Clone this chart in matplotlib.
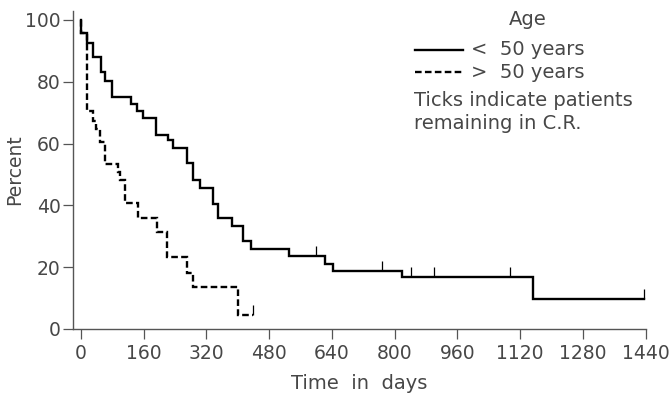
import numpy as np
import matplotlib
matplotlib.use("Agg")
import matplotlib.pyplot as plt
from matplotlib.lines import Line2D

# ---- data ----
lt50_days = [0, 1.5, 17, 32, 51, 62, 80, 127, 144, 158, 192, 223, 236, 270, 287,
             304, 338, 350, 385, 414, 433, 531, 622, 642, 818, 1153]
lt50_pct = [100, 95.8, 92.6, 88.0, 83.2, 80.4, 75.2, 72.8, 70.6, 68.2, 62.8, 61.2,
            58.7, 53.6, 48.1, 45.5, 40.6, 35.8, 33.3, 28.5, 26.0, 23.6, 21.0, 18.9,
            16.9, 9.6]
lt50_end = 1435
lt50_censored = [599, 767, 841, 900, 1095, 1435]

gt50_days = [0, 1.5, 17, 30, 38, 49, 62, 94, 100, 113, 147, 194, 219, 270, 287, 401]
gt50_pct = [100, 95.8, 70.6, 67.2, 64.7, 60.5, 53.4, 50.8, 48.2, 40.9, 35.9, 31.4,
            23.4, 18.1, 13.6, 4.5]
gt50_end = 440
gt50_censored = [440]

x_ticks = [0, 160, 320, 480, 640, 800, 960, 1120, 1280, 1440]
y_ticks = [0, 20, 40, 60, 80, 100]

legend_title = "Age"
label_lt50 = "<  50 years"
label_gt50 = ">  50 years"
note_lines = ["Ticks indicate patients", "remaining in C.R."]

TXT = "#474747"
plt.rcParams['font.family'] = ['DejaVu Sans']

W, H = 670, 394
fig = plt.figure(figsize=(W / 100, H / 100), dpi=100)
ax = fig.add_axes([73.3 / W, 1 - 329 / H, (646 - 73.3) / W, (329 - 10.7) / H])


def fx(px):
    return px / W


def fy(py):
    return 1 - py / H


def step_value(days, pct, t):
    i = np.searchsorted(days, t, side='right') - 1
    return np.asarray(pct)[i]


def draw_curve(days, pct, end, censored, **kw):
    xs = list(days) + [end]
    ys = list(pct) + [pct[-1]]
    ax.step(xs, ys, where='post', color='black', **kw)
    for c in censored:
        v = step_value(days, pct, c)
        ax.plot([c, c], [v, v + 3.2], color='black', lw=0.9,
                solid_capstyle='butt')


DASH = (0, (2.8, 1.4))
draw_curve(lt50_days, lt50_pct, lt50_end, lt50_censored, lw=1.7,
           solid_joinstyle='miter')
draw_curve(gt50_days, gt50_pct, gt50_end, gt50_censored, lw=1.7,
           linestyle=DASH, dash_joinstyle='miter')

ax.set_xlim(-19, 1441)
ax.set_ylim(0, 103)
ax.set_xticks(x_ticks)
ax.set_yticks(y_ticks)
for s in ['top', 'right']:
    ax.spines[s].set_visible(False)
for s in ['left', 'bottom']:
    ax.spines[s].set_color('#555555')
    ax.spines[s].set_linewidth(1.0)
ax.tick_params(axis='both', length=7.5, width=0.9, color='#555555',
               labelsize=13.5, labelcolor=TXT, direction='out')
ax.tick_params(axis='x', pad=3)
ax.tick_params(axis='y', pad=1.5)
ax.set_xlabel("Time  in  days", fontsize=14, color=TXT, labelpad=8)
ax.set_ylabel("Percent", fontsize=13.5, color=TXT)
ax.yaxis.set_label_coords((24 - 73.3) / (646 - 73.3), 0.5)

# ---- legend drawn by hand ----
fig.text(fx(528), fy(25), legend_title, ha='center', va='baseline',
         fontsize=14, color=TXT)
fig.add_artist(Line2D([fx(415), fx(463)], [fy(50), fy(50)], color='black',
                      lw=1.7, transform=fig.transFigure))
fig.add_artist(Line2D([fx(415), fx(463)], [fy(72), fy(72)], color='black',
                      lw=1.7, linestyle=DASH, transform=fig.transFigure))
fig.text(fx(471), fy(55), label_lt50, ha='left', va='baseline',
         fontsize=14, color=TXT)
fig.text(fx(471), fy(78), label_gt50, ha='left', va='baseline',
         fontsize=14, color=TXT)
fig.text(fx(414), fy(106), note_lines[0], ha='left', va='baseline',
         fontsize=14, color=TXT)
fig.text(fx(414), fy(129), note_lines[1], ha='left', va='baseline',
         fontsize=14, color=TXT)

fig.savefig("out.png", dpi=100)
